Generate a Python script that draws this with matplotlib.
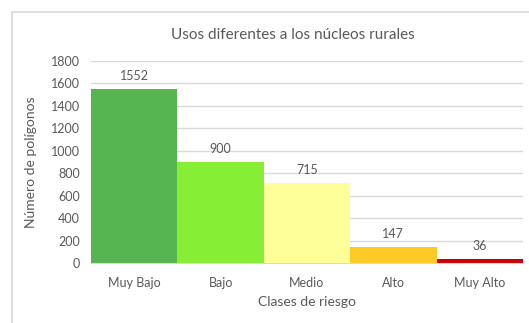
import matplotlib
matplotlib.use("Agg")
import matplotlib.pyplot as plt
from matplotlib.patches import Rectangle

clases = ["Muy Bajo", "Bajo", "Medio", "Alto", "Muy Alto"]
poligonos = [1552, 900, 715, 147, 36]
colores = ["#57B551", "#86EE35", "#FFFF99", "#FFCA28", "#CC0000"]
yticks = [0, 200, 400, 600, 800, 1000, 1200, 1400, 1600, 1800]

gris = "#595959"
plt.rcParams["font.family"] = ["Lato", "DejaVu Sans"]

W, H = 529, 323
fig = plt.figure(figsize=(W / 100, H / 100), dpi=100)

# marco gris del gráfico
fig.patches.append(Rectangle((11.5 / W, -0.1), 1.2, 1 - 11.5 / H + 0.1,
                             transform=fig.transFigure, fill=False,
                             edgecolor="#D9D9D9", linewidth=1.2))

ax = fig.add_axes([91 / W, 1 - 263 / H, (523 - 91) / W, (263 - 61) / H])
x = range(len(clases))
bars = ax.bar(x, poligonos, width=1.0, color=colores, zorder=2)
for b, v in zip(bars, poligonos):
    ax.text(b.get_x() + b.get_width() / 2, v + 60, str(v), ha="center",
            va="bottom", fontsize=9, color=gris)

ax.set_xlim(-0.5, len(clases) - 0.5)
ax.set_ylim(0, 1800)
ax.set_yticks(yticks)
ax.set_xticks(list(x))
ax.set_xticklabels(clases)
ax.yaxis.grid(True, color="#D9D9D9", linewidth=1, zorder=0)
ax.set_axisbelow(True)
for s in ["left", "right", "top"]:
    ax.spines[s].set_visible(False)
ax.spines["bottom"].set_color("#D9D9D9")
ax.tick_params(axis="both", length=0, labelsize=9, labelcolor=gris)
ax.tick_params(axis="x", pad=10)
ax.tick_params(axis="y", pad=8)

fig.text(293 / W, 1 - 35 / H, "Usos diferentes a los núcleos rurales",
         fontsize=11, color=gris, ha="center", va="center")
ax.set_xlabel("Clases de riesgo", fontsize=10, color=gris, labelpad=5)
ax.set_ylabel("Número de polígonos", fontsize=10, color=gris, labelpad=10)

fig.savefig("out.png", dpi=100)
